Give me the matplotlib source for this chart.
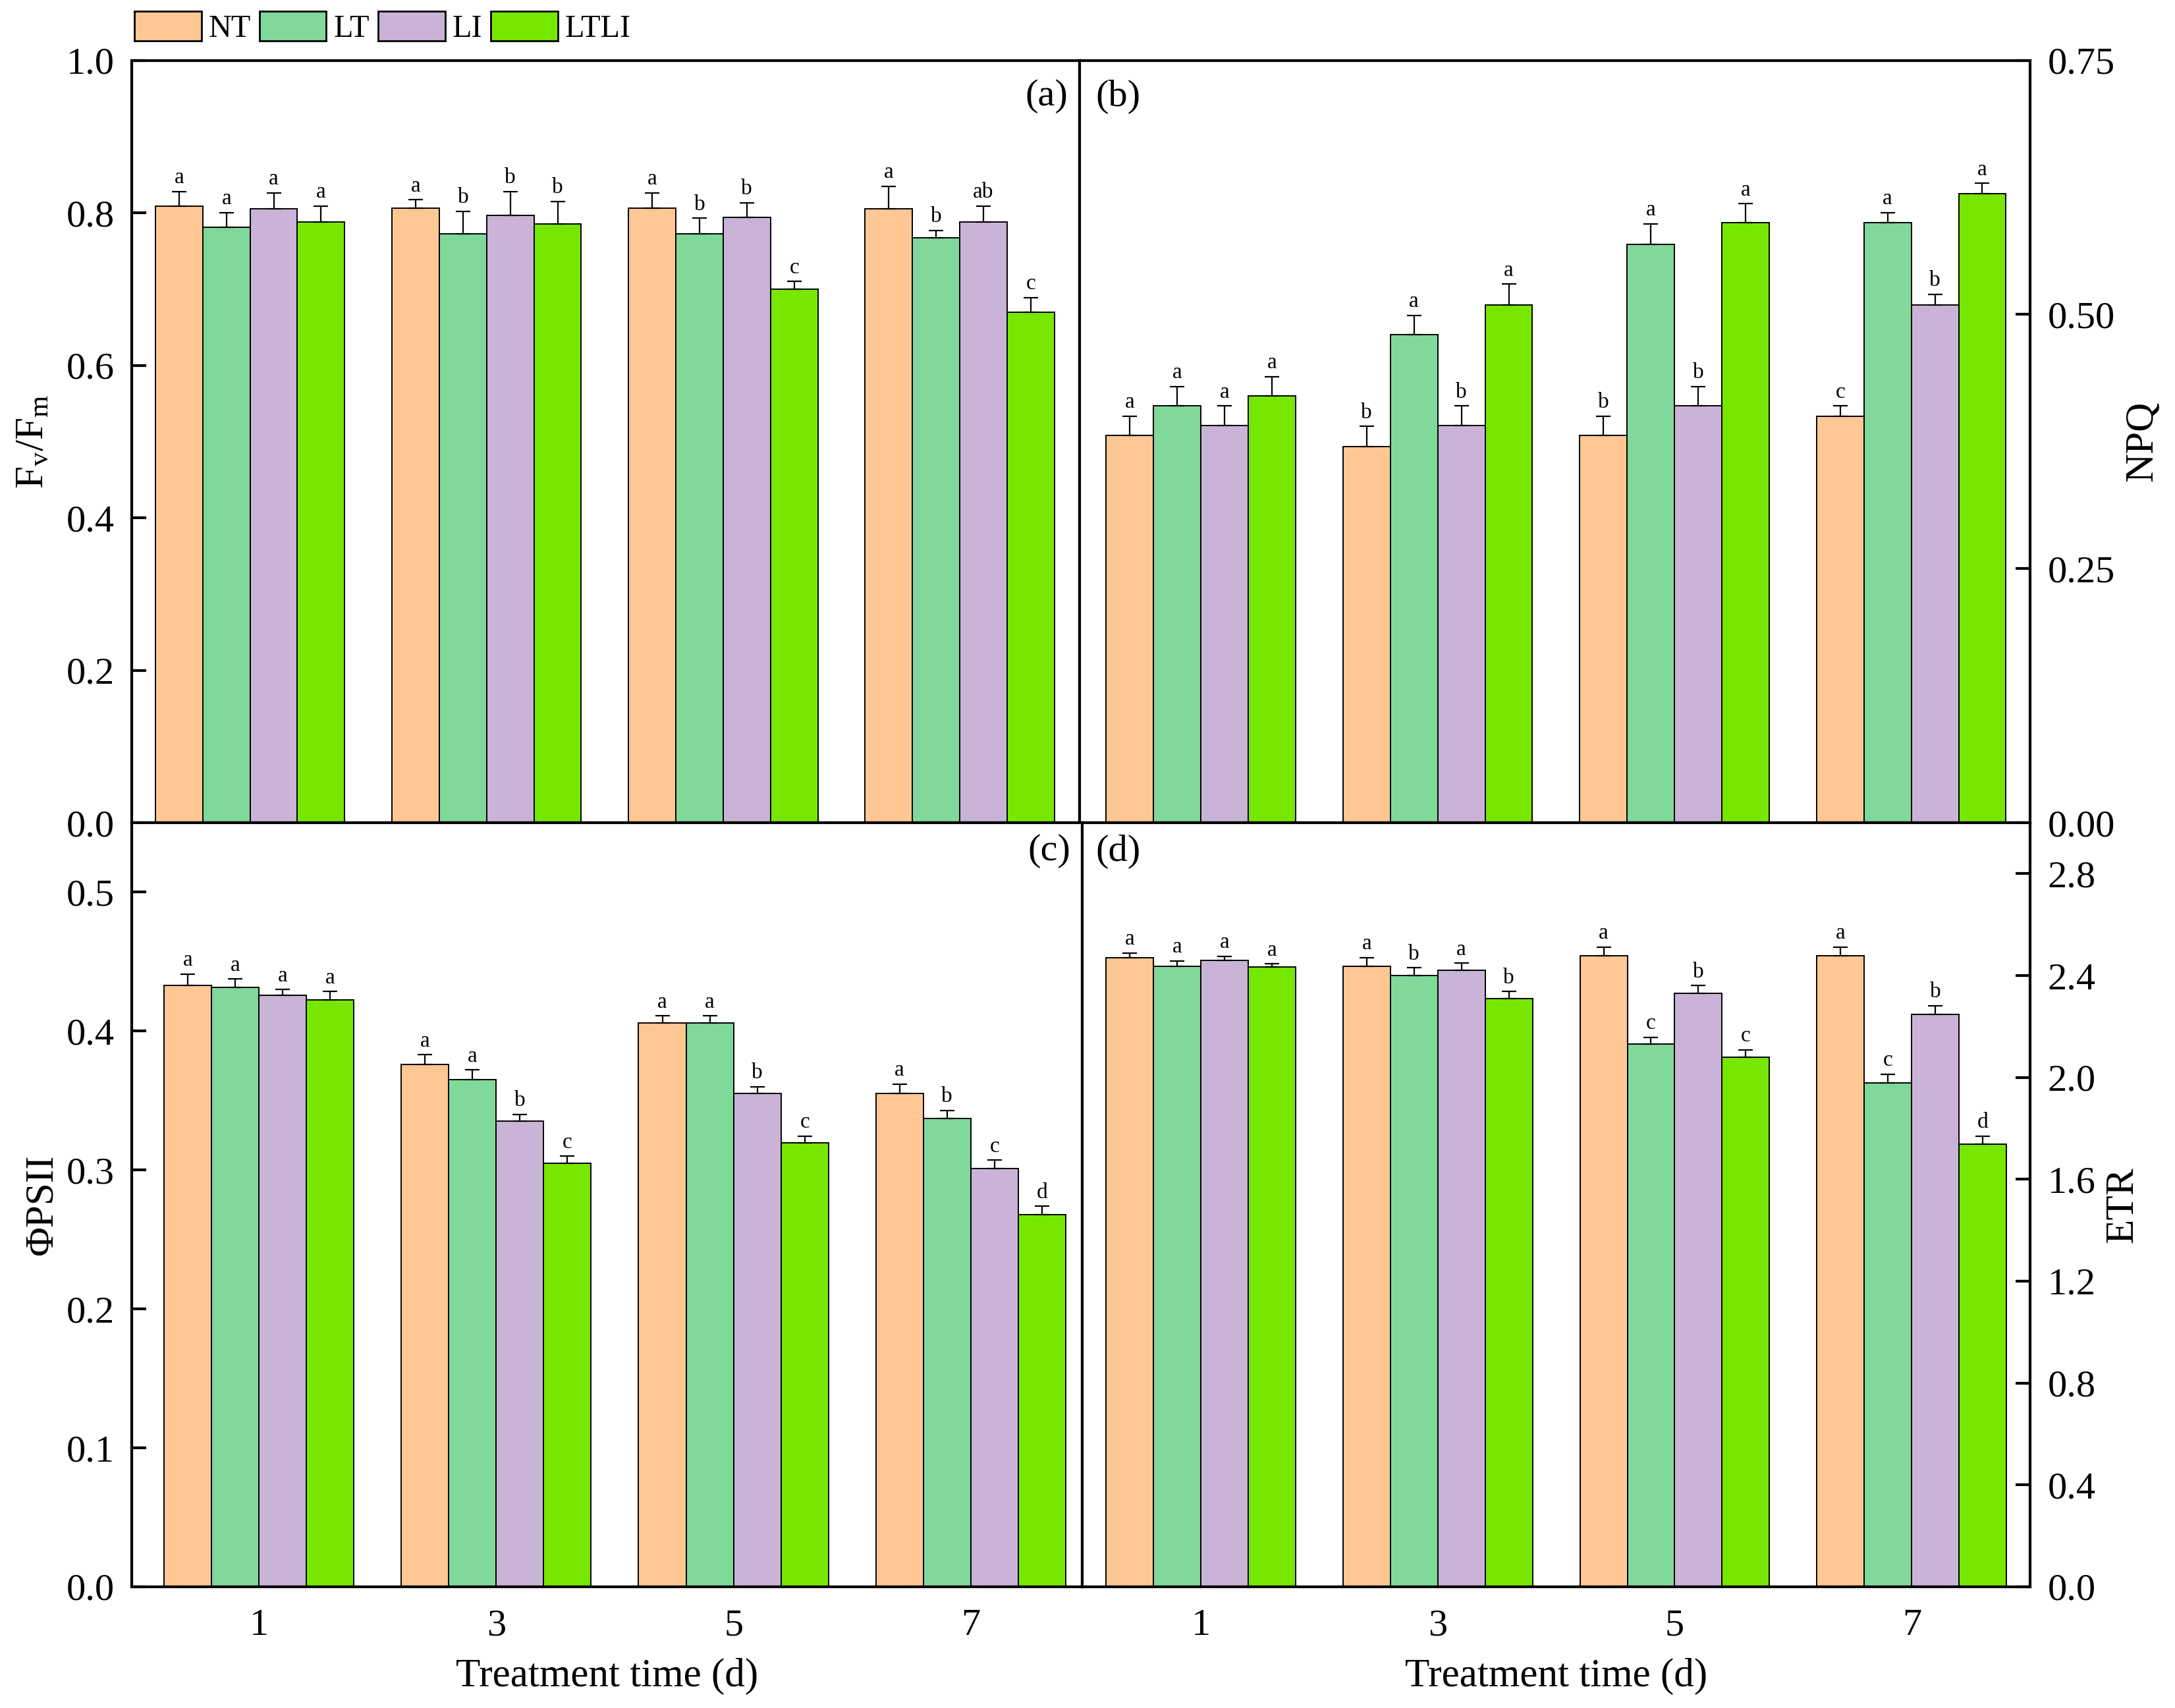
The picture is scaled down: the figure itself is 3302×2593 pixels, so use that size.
import matplotlib
matplotlib.use('Agg')
import matplotlib.pyplot as plt
import numpy as np
from matplotlib.patches import Patch

plt.rcParams['font.family'] = ['Liberation Serif', 'DejaVu Serif']
plt.rcParams['mathtext.fontset'] = 'custom'
plt.rcParams['mathtext.rm'] = 'Liberation Serif'
plt.rcParams['mathtext.it'] = 'Liberation Serif:italic'

# ---------------- data ----------------
days = ['1', '3', '5', '7']
groups = ['NT', 'LT', 'LI', 'LTLI']
colors = ['#FEC794', '#80D89A', '#C9B3D6', '#77E700']

# (a) Fv/Fm
fvfm_NT = [0.809, 0.806, 0.806, 0.805]
fvfm_LT = [0.781, 0.772, 0.772, 0.767]
fvfm_LI = [0.805, 0.797, 0.794, 0.788]
fvfm_LTLI = [0.788, 0.785, 0.700, 0.670]
fvfm_err_NT = [0.019, 0.011, 0.020, 0.030]
fvfm_err_LT = [0.019, 0.030, 0.021, 0.010]
fvfm_err_LI = [0.021, 0.031, 0.019, 0.021]
fvfm_err_LTLI = [0.021, 0.030, 0.010, 0.019]
fvfm_sig_NT = ['a', 'a', 'a', 'a']
fvfm_sig_LT = ['a', 'b', 'b', 'b']
fvfm_sig_LI = ['a', 'b', 'b', 'ab']
fvfm_sig_LTLI = ['a', 'b', 'c', 'c']

# (b) NPQ
npq_NT = [0.381, 0.370, 0.381, 0.400]
npq_LT = [0.410, 0.480, 0.569, 0.590]
npq_LI = [0.391, 0.391, 0.410, 0.509]
npq_LTLI = [0.420, 0.509, 0.590, 0.619]
npq_err_NT = [0.019, 0.020, 0.019, 0.010]
npq_err_LT = [0.019, 0.019, 0.020, 0.010]
npq_err_LI = [0.019, 0.019, 0.019, 0.011]
npq_err_LTLI = [0.019, 0.021, 0.019, 0.010]
npq_sig_NT = ['a', 'b', 'b', 'c']
npq_sig_LT = ['a', 'a', 'a', 'a']
npq_sig_LI = ['a', 'b', 'b', 'b']
npq_sig_LTLI = ['a', 'a', 'a', 'a']

# (c) PhiPSII
phi_NT = [0.433, 0.376, 0.406, 0.355]
phi_LT = [0.4315, 0.365, 0.406, 0.337]
phi_LI = [0.426, 0.335, 0.355, 0.301]
phi_LTLI = [0.4225, 0.305, 0.3195, 0.268]
phi_err_NT = [0.008, 0.007, 0.005, 0.007]
phi_err_LT = [0.006, 0.007, 0.005, 0.006]
phi_err_LI = [0.004, 0.005, 0.005, 0.006]
phi_err_LTLI = [0.006, 0.005, 0.005, 0.006]
phi_sig_NT = ['a', 'a', 'a', 'a']
phi_sig_LT = ['a', 'a', 'a', 'b']
phi_sig_LI = ['a', 'b', 'b', 'c']
phi_sig_LTLI = ['a', 'c', 'c', 'd']

# (d) ETR
etr_NT = [2.471, 2.437, 2.478, 2.478]
etr_LT = [2.437, 2.399, 2.131, 1.978]
etr_LI = [2.460, 2.422, 2.330, 2.247]
etr_LTLI = [2.433, 2.310, 2.079, 1.739]
etr_err_NT = [0.018, 0.034, 0.034, 0.034]
etr_err_LT = [0.020, 0.031, 0.027, 0.034]
etr_err_LI = [0.016, 0.027, 0.031, 0.034]
etr_err_LTLI = [0.013, 0.027, 0.029, 0.031]
etr_sig_NT = ['a', 'a', 'a', 'a']
etr_sig_LT = ['a', 'b', 'c', 'c']
etr_sig_LI = ['a', 'a', 'b', 'b']
etr_sig_LTLI = ['a', 'b', 'c', 'd']

# ---------------- figure ----------------
fig = plt.figure(figsize=(16.51, 12.965), dpi=200)

L, MT, MB, R = 0.0606, 0.4964, 0.4976, 0.9334
T, M, B = 0.9647, 0.5183, 0.0710

ax_a = fig.add_axes([L, M, MT - L, T - M])
ax_b = fig.add_axes([MT, M, R - MT, T - M])
ax_c = fig.add_axes([L, B, MB - L, M - B])
ax_d = fig.add_axes([MB, B, R - MB, M - B])

SPW = 1.5


def draw(ax, vals, errs, sigs, xlim, ylim, yticks, fmt, side, bottom):
    x = np.arange(len(days))
    w = 0.2
    for i, g in enumerate(groups):
        pos = x + (i - 1.5) * w
        v = np.array(vals[i])
        e = np.array(errs[i])
        ax.bar(pos, v, w, color=colors[i], edgecolor='black', linewidth=0.7, zorder=2)
        ax.errorbar(pos, v, yerr=[np.zeros_like(e), e], fmt='none', ecolor='black',
                    elinewidth=0.8, capsize=3.8, capthick=0.8, zorder=3)
        for p, vv, ee, s in zip(pos, v, e, sigs[i]):
            ax.annotate(s, (p, vv + ee), xytext=(0, 2), textcoords='offset points',
                        ha='center', va='bottom', fontsize=12)
    ax.set_xlim(*xlim)
    ax.set_ylim(*ylim)
    ax.set_yticks(yticks)
    ax.set_yticklabels([fmt.format(t) for t in yticks])
    for s in ax.spines.values():
        s.set_linewidth(SPW)
    ax.tick_params(axis='y', direction='in', length=8, width=SPW, labelsize=21, pad=9.5)
    if side == 'right':
        ax.yaxis.tick_right()
        ax.yaxis.set_label_position('right')
        ax.tick_params(axis='y', left=False, labelleft=False)
    ax.set_xticks(x)
    if bottom:
        ax.set_xticklabels(days)
        ax.tick_params(axis='x', length=0, labelsize=21, pad=12)
        ax.set_xlabel('Treatment time (d)', fontsize=22, labelpad=8)
    else:
        ax.tick_params(axis='x', length=0, labelbottom=False)


draw(ax_a, [fvfm_NT, fvfm_LT, fvfm_LI, fvfm_LTLI],
     [fvfm_err_NT, fvfm_err_LT, fvfm_err_LI, fvfm_err_LTLI],
     [fvfm_sig_NT, fvfm_sig_LT, fvfm_sig_LI, fvfm_sig_LTLI],
     (-0.5, 3.507), (0, 1.0), np.arange(0, 1.01, 0.2), '{:.1f}', 'left', False)
draw(ax_b, [npq_NT, npq_LT, npq_LI, npq_LTLI],
     [npq_err_NT, npq_err_LT, npq_err_LI, npq_err_LTLI],
     [npq_sig_NT, npq_sig_LT, npq_sig_LI, npq_sig_LTLI],
     (-0.512, 3.502), (0, 0.75), [0, 0.25, 0.5, 0.75], '{:.2f}', 'right', False)
draw(ax_c, [phi_NT, phi_LT, phi_LI, phi_LTLI],
     [phi_err_NT, phi_err_LT, phi_err_LI, phi_err_LTLI],
     [phi_sig_NT, phi_sig_LT, phi_sig_LI, phi_sig_LTLI],
     (-0.536, 3.47), (0, 0.55), np.arange(0, 0.51, 0.1), '{:.1f}', 'left', True)
draw(ax_d, [etr_NT, etr_LT, etr_LI, etr_LTLI],
     [etr_err_NT, etr_err_LT, etr_err_LI, etr_err_LTLI],
     [etr_sig_NT, etr_sig_LT, etr_sig_LI, etr_sig_LTLI],
     (-0.5, 3.5), (0, 3.0), np.arange(0, 2.81, 0.4), '{:.1f}', 'right', True)

ax_a.set_ylabel(r'F$_\mathregular{v}$/F$_\mathregular{m}$', fontsize=22)
ax_a.yaxis.set_label_coords(-0.085, 0.5)
ax_c.set_ylabel('ΦPSII', fontsize=22)
ax_c.yaxis.set_label_coords(-0.075, 0.5)
ax_b.set_ylabel('NPQ', fontsize=22)
ax_b.yaxis.set_label_coords(1.099, 0.5)
ax_d.set_ylabel('ETR', fontsize=22)
ax_d.yaxis.set_label_coords(1.078, 0.5)

ax_a.text(0.9875, 0.975, '(a)', transform=ax_a.transAxes, ha='right', va='top', fontsize=21)
ax_b.text(0.0166, 0.975, '(b)', transform=ax_b.transAxes, ha='left', va='top', fontsize=21)
ax_c.text(0.9875, 0.985, '(c)', transform=ax_c.transAxes, ha='right', va='top', fontsize=21)
ax_d.text(0.0140, 0.985, '(d)', transform=ax_d.transAxes, ha='left', va='top', fontsize=21)

handles = [Patch(facecolor=c, edgecolor='black', linewidth=1.0) for c in colors]
fig.legend(handles, groups, loc='center left', bbox_to_anchor=(204 / 3302, 0.984),
           ncol=4, frameon=False, fontsize=17.4, handlelength=2.1, handleheight=1.06,
           handletextpad=0.23, columnspacing=0.27, borderpad=0, borderaxespad=0)

fig.savefig('out.png', dpi=200)
